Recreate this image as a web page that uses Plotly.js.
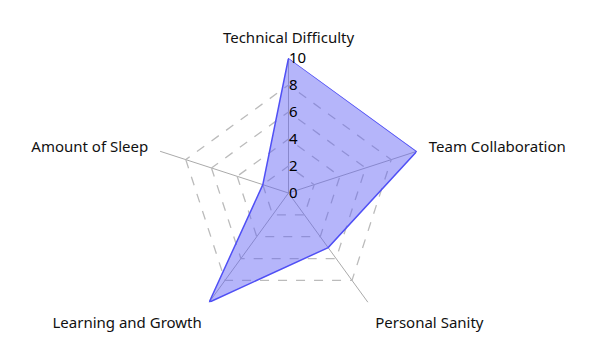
<!DOCTYPE html>
<html>
<head>
<meta charset="utf-8">
<script src="https://cdn.plot.ly/plotly-3.0.1.min.js"></script>
<style>html,body{margin:0;padding:0;background:#fff;}</style>
</head>
<body>
<div id="chart" style="width:595px;height:351px;"></div>
<script>
const categories = ["Technical Difficulty", "Team Collaboration", "Personal Sanity", "Learning and Growth", "Amount of Sleep"];
const values = [10, 10, 5, 10, 2];
const radialTicks = [0, 2, 4, 6, 8, 10];

const trace = {
  type: 'scatterpolar',
  r: values.concat([values[0]]),
  theta: categories.concat([categories[0]]),
  fill: 'toself',
  fillcolor: 'rgba(100,100,245,0.48)',
  line: {color: 'rgb(80,80,245)', width: 1.5},
  mode: 'lines',
  hoverinfo: 'skip'
};

const layout = {
  width: 595, height: 351,
  margin: {l: 80, r: 98, t: 58, b: 23},
  paper_bgcolor: '#fff',
  showlegend: false,
  font: {family: 'Noto Sans, sans-serif', size: 15, color: '#000'},
  polar: {
    bgcolor: '#fff',
    gridshape: 'linear',
    radialaxis: {
      range: [0, 10],
      tickvals: radialTicks,
      ticktext: radialTicks.map(String),
      angle: 90,
      tickangle: 90,
      showline: false,
      ticks: '',
      gridcolor: '#bbbbbb',
      griddash: 'dash',
      gridwidth: 1.3,
      tickfont: {size: 15, color: '#000'}
    },
    angularaxis: {
      rotation: 90,
      direction: 'clockwise',
      showline: false,
      ticks: 'outside',
      ticklen: 9,
      tickcolor: 'rgba(0,0,0,0)',
      gridcolor: '#aaaaaa',
      gridwidth: 1,
      tickfont: {size: 15, color: '#111'}
    }
  }
};

Plotly.newPlot('chart', [trace], layout, {displayModeBar: false, staticPlot: true});
</script>
</body>
</html>
